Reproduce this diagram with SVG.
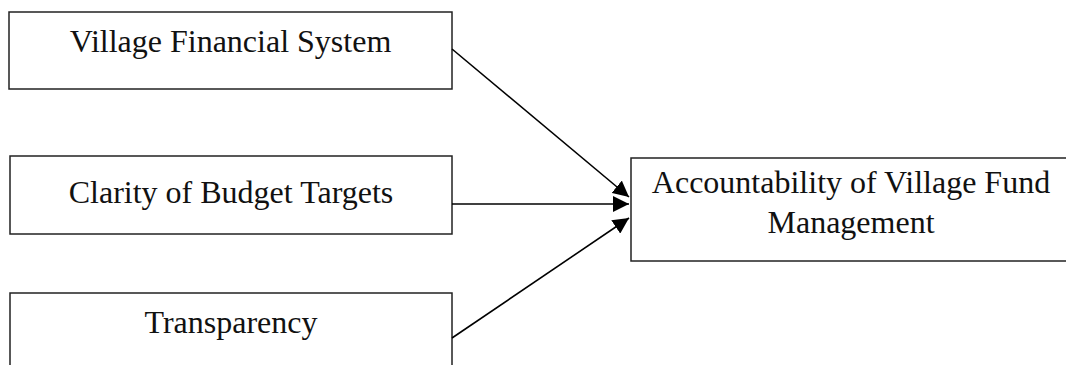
<svg xmlns="http://www.w3.org/2000/svg" width="1066" height="365" viewBox="0 0 1066 365">
<style>
.box{fill:#fff;stroke:#222;stroke-width:1.5}
.lbl{font-family:"Liberation Serif","Times New Roman",serif;font-size:32px;fill:#111;text-anchor:middle}
.edge{stroke:#000;stroke-width:1.6;fill:none;marker-end:url(#ah)}
</style>
<defs>
<marker id="ah" markerUnits="userSpaceOnUse" markerWidth="18" markerHeight="16" refX="16" refY="8" orient="auto">
<path d="M0,0 L16,8 L0,16 Z" fill="#000"/>
</marker>
</defs>
<rect width="1066" height="365" fill="#fff"/>
<g id="n1"><rect class="box" x="9" y="12" width="443" height="77"/><text class="lbl" x="230.5" y="52">Village Financial System</text></g>
<g id="n2"><rect class="box" x="10" y="156" width="442" height="78"/><text class="lbl" x="231" y="203">Clarity of Budget Targets</text></g>
<g id="n3"><rect class="box" x="10" y="293" width="442" height="90"/><text class="lbl" x="231" y="333">Transparency</text></g>
<g id="n4"><rect class="box" x="631" y="158" width="440" height="103"/><text class="lbl" x="851" y="193">Accountability of Village Fund</text><text class="lbl" x="851" y="233">Management</text></g>
<g id="edges">
<path class="edge" d="M452,49 L629,197"/>
<path class="edge" d="M452,204 L629,204"/>
<path class="edge" d="M452,338 L629,218"/>
</g>
</svg>
